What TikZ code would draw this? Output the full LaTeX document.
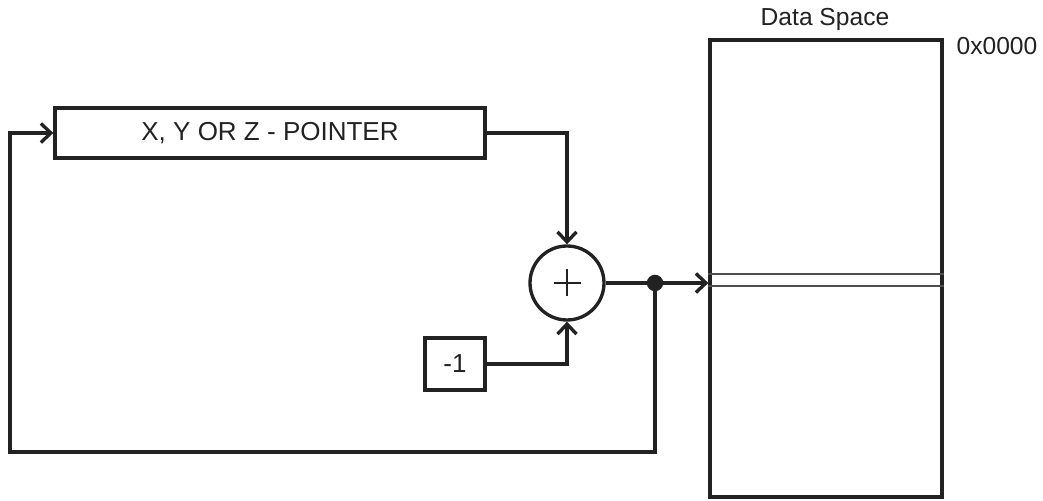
\documentclass[tikz,border=0pt]{standalone}
\usepackage{fontspec}
\setmainfont{Liberation Sans}
\usetikzlibrary{positioning,arrows.meta,calc}
\definecolor{ink}{HTML}{222222}
\tikzset{
  blk/.style={rectangle,draw=ink,line width=1.9pt,inner sep=0pt,text=ink},
  sumnode/.style={circle,draw=ink,line width=1.9pt,minimum size=14.8mm,inner sep=0pt},
  wire/.style={draw=ink,line width=1.9pt},
  fw/.style={wire,-{Straight Barb[length=2mm,width=3.8mm,line width=1.9pt]}},
  lbl/.style={text=ink,font=\fontsize{14}{16}\selectfont},
}

\begin{document}
\begin{tikzpicture}
  \useasboundingbox (0,0) rectangle (20.86,10.02);
  % blocks
  \node[blk,minimum width=86mm,minimum height=10mm,font=\fontsize{14.8}{17}\selectfont] (ptr) at (5.40,7.36) {X, Y OR Z - POINTER};
  \node[sumnode] (sum) at (11.34,4.36) {};
  \node[blk,minimum width=12mm,minimum height=10.4mm,font=\fontsize{14.8}{17}\selectfont] (dec) at (9.10,2.74) {-1};
  \node[circle,fill=ink,minimum size=3.3mm,inner sep=0pt] (dot) at (13.10,4.36) {};
  \node[blk,minimum width=46.4mm,minimum height=91.4mm] (ds) at (16.52,4.65) {};
  \node[lbl] (dstitle) at (16.50,9.64) {Data Space};
  \node[lbl] (addr) at (19.94,9.10) {0x0000};
  \coordinate (fbl) at (0.2,0.98);
  % plus sign
  \draw[ink,line width=1pt] ($(sum.center)+(-0.27,0)$) -- ($(sum.center)+(0.27,0)$);
  \draw[ink,line width=1pt] ($(sum.center)+(0,-0.27)$) -- ($(sum.center)+(0,0.27)$);
  % data space entry
  \draw[ink!80,line width=0.7pt] (ds.west |- 0,4.54) -- (ds.east |- 0,4.54);
  \draw[ink!80,line width=0.7pt] (ds.west |- 0,4.30) -- (ds.east |- 0,4.30);
  % connectors
  \draw[fw] (ptr.east) -| (sum.north);
  \draw[fw] (dec.east) -| (sum.south);
  \draw[wire] (sum.east) -- (dot.center);
  \draw[fw] (dot.center) -- (dot -| ds.west);
  \draw[fw] (dot.center) -- (dot.center |- fbl) -- (fbl) |- (ptr.west);
\end{tikzpicture}
\end{document}
